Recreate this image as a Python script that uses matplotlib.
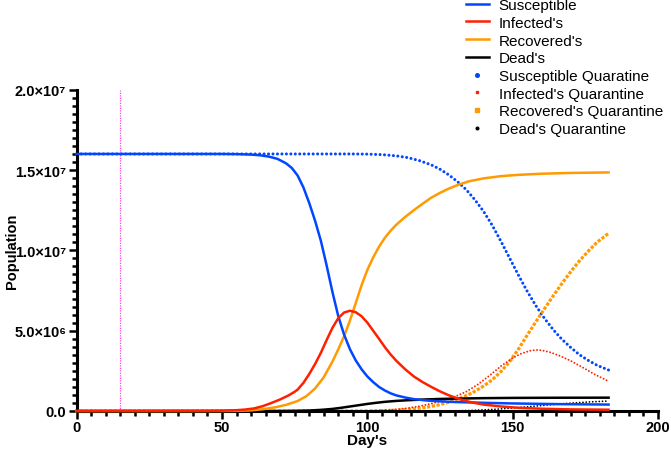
import matplotlib
matplotlib.use("Agg")
import matplotlib.pyplot as plt
from matplotlib.lines import Line2D
from matplotlib.ticker import MultipleLocator

# ---- data (values in millions) ----
t_s = [0, 50, 55, 60, 63, 66, 69, 72, 74, 76, 78, 80, 82, 84, 86, 88, 90, 92, 94,
       96, 98, 100, 102, 104, 106, 108, 110, 113, 116, 120, 125, 130, 140, 150,
       165, 183]
s = [16.0, 16.0, 15.99, 15.96, 15.92, 15.84, 15.7, 15.42, 15.13, 14.66, 13.92,
     12.95, 11.85, 10.6, 9.05, 7.4, 5.9, 4.75, 3.85, 3.15, 2.6, 2.15, 1.8, 1.5,
     1.28, 1.1, 0.97, 0.84, 0.74, 0.66, 0.6, 0.56, 0.51, 0.47, 0.43, 0.40]

t_i = [0, 45, 50, 55, 58, 61, 64, 67, 70, 73, 75, 76, 78, 80, 82, 84, 86, 88, 90,
       92, 94, 96, 98, 100, 102, 104, 106, 108, 110, 113, 116, 119, 122, 125,
       128, 132, 136, 140, 146, 152, 160, 170, 183]
i = [0, 0.01, 0.02, 0.05, 0.09, 0.16, 0.3, 0.5, 0.72, 0.98, 1.2, 1.33, 1.75,
     2.3, 2.92, 3.62, 4.42, 5.18, 5.78, 6.13, 6.24, 6.15, 5.9, 5.5, 5.0, 4.5,
     3.98, 3.52, 3.12, 2.6, 2.15, 1.8, 1.5, 1.22, 0.98, 0.72, 0.53, 0.4, 0.28,
     0.2, 0.14, 0.1, 0.08]

t_r = [0, 50, 55, 60, 64, 68, 72, 76, 79, 82, 85, 88, 90, 92, 94, 96, 98, 100,
       102, 104, 106, 108, 110, 113, 116, 119, 122, 125, 128, 131, 135, 140, 146,
       152, 160, 170, 183]
r = [0, 0, 0.01, 0.04, 0.11, 0.22, 0.38, 0.62, 0.92, 1.4, 2.1, 3.08, 3.84, 4.66,
     5.62, 6.72, 7.82, 8.78, 9.56, 10.22, 10.77, 11.22, 11.6, 12.08, 12.5, 12.9,
     13.28, 13.58, 13.84, 14.06, 14.3, 14.48, 14.62, 14.7, 14.77, 14.82, 14.85]

t_d = [0, 70, 75, 80, 84, 88, 91, 94, 97, 100, 103, 106, 110, 115, 120, 125,
       130, 140, 150, 165, 183]
d = [0, 0, 0.01, 0.03, 0.07, 0.13, 0.2, 0.28, 0.36, 0.44, 0.51, 0.57, 0.63,
     0.68, 0.72, 0.75, 0.77, 0.8, 0.815, 0.825, 0.83]

t_sq = [0, 95, 100, 105, 110, 114, 118, 122, 125, 128, 131, 134, 137, 140, 143,
        146, 149, 152, 155, 158, 161, 164, 167, 170, 173, 176, 179, 183]
sq = [16.0, 16.0, 15.99, 15.96, 15.88, 15.77, 15.58, 15.32, 15.05, 14.7, 14.28,
      13.78, 13.15, 12.42, 11.55, 10.55, 9.5, 8.45, 7.45, 6.55, 5.75, 5.05,
      4.45, 3.95, 3.5, 3.15, 2.85, 2.55]

t_iq = [0, 100, 105, 110, 114, 118, 122, 126, 130, 134, 138, 142, 146, 150,
        153, 156, 158, 160, 163, 166, 170, 174, 178, 183]
iq = [0, 0, 0.04, 0.1, 0.18, 0.3, 0.46, 0.65, 0.88, 1.2, 1.65, 2.2, 2.8, 3.3,
      3.58, 3.75, 3.8, 3.78, 3.65, 3.45, 3.12, 2.72, 2.3, 1.85]

t_rq = [0, 100, 105, 110, 115, 120, 124, 128, 132, 136, 140, 143, 146, 149,
        152, 155, 158, 161, 164, 167, 170, 173, 176, 179, 183]
rq = [0, 0, 0.02, 0.05, 0.11, 0.22, 0.36, 0.54, 0.8, 1.12, 1.55, 1.95, 2.46,
      3.08, 3.86, 4.72, 5.56, 6.38, 7.18, 7.95, 8.68, 9.35, 9.95, 10.5, 11.06]

t_dq = [0, 125, 130, 135, 140, 145, 150, 155, 160, 165, 170, 176, 183]
dq = [0, 0, 0.01, 0.03, 0.07, 0.12, 0.19, 0.26, 0.34, 0.42, 0.49, 0.56, 0.62]

quarantine_day = 15
labels = ["Susceptible", "Infected's", "Recovered's", "Dead's",
          "Susceptible Quaratine", "Infected's Quarantine",
          "Recovered's Quarantine", "Dead's Quarantine"]
ytick_vals = [0, 5e6, 1e7, 1.5e7, 2e7]
ytick_labels = ["0.0", "5.0×10⁶", "1.0×10⁷", "1.5×10⁷", "2.0×10⁷"]
xtick_vals = [0, 50, 100, 150, 200]

BLUE = "#0047FF"
RED = "#FF2000"
ORANGE = "#FF9A00"
BLACK = "#000000"
MAGENTA = "#FF44DD"

M = 1e6
FONT = ["Liberation Sans", "DejaVu Sans"]
plt.rcParams["font.family"] = FONT

fig = plt.figure(figsize=(6.71, 4.52), dpi=100)
ax = fig.add_axes([76.7 / 671, 40 / 452, (658 - 76.7) / 671, (412 - 90.7) / 452])

# quarantine (dotted) series
ax.plot(t_sq, [v * M for v in sq], color=BLUE, lw=2.2, ls=(0, (0.01, 1.45)),
        dash_capstyle="round", clip_on=False, zorder=2)
ax.plot(t_rq, [v * M for v in rq], color=ORANGE, lw=2.3, ls=(0, (0.01, 1.5)),
        dash_capstyle="projecting", clip_on=False, zorder=2)
ax.plot(t_iq, [v * M for v in iq], color=RED, lw=1.4, ls=(0, (0.01, 1.7)),
        dash_capstyle="round", clip_on=False, zorder=2)
ax.plot(t_dq, [v * M for v in dq], color=BLACK, lw=1.3, ls=(0, (0.01, 1.8)),
        dash_capstyle="round", clip_on=False, zorder=2)

# model (solid) series
ax.plot(t_d, [v * M for v in d], color=BLACK, lw=1.8, clip_on=False, zorder=3)
ax.plot(t_r, [v * M for v in r], color=ORANGE, lw=1.8, clip_on=False, zorder=3)
ax.plot(t_s, [v * M for v in s], color=BLUE, lw=1.8, clip_on=False, zorder=3)
ax.plot(t_i, [v * M for v in i], color=RED, lw=1.8, clip_on=False, zorder=4)

ax.axvline(quarantine_day, color=MAGENTA, lw=0.9, ls=(0, (1, 1)), zorder=1)

ax.set_xlim(0, 200)
ax.set_ylim(0, 2e7)
for side in ("top", "right"):
    ax.spines[side].set_visible(False)
for side in ("left", "bottom"):
    ax.spines[side].set_linewidth(2.2)

ax.set_xticks(xtick_vals)
ax.set_xticklabels([str(x) for x in xtick_vals])
ax.set_yticks(ytick_vals)
ax.set_yticklabels(ytick_labels)
ax.xaxis.set_minor_locator(MultipleLocator(5))
ax.yaxis.set_minor_locator(MultipleLocator(5e5))
ax.tick_params(which="major", length=5.5, width=1.8, direction="out")
ax.tick_params(axis="x", which="major", pad=1)
ax.tick_params(axis="y", which="major", pad=2)
ax.tick_params(which="minor", length=3.6, width=1.8, direction="out")
for lab in ax.get_xticklabels() + ax.get_yticklabels():
    lab.set_fontweight("bold")
    lab.set_fontsize(10.5)

ax.set_xlabel("Day's", fontsize=11, fontweight="bold", va="center")
ax.xaxis.set_label_coords(0.5, -0.09)
ax.set_ylabel("Population", fontsize=10.5, fontweight="bold", va="center",
              family=["Liberation Sans Narrow", "Liberation Sans", "DejaVu Sans"])
ax.yaxis.set_label_coords(-0.111, 0.5)

handles = [
    Line2D([], [], color=BLUE, lw=1.8),
    Line2D([], [], color=RED, lw=1.8),
    Line2D([], [], color=ORANGE, lw=1.8),
    Line2D([], [], color=BLACK, lw=1.8),
    Line2D([], [], color=BLUE, ls="none", marker="o", ms=2.6),
    Line2D([], [], color=RED, ls="none", marker="s", ms=1.8),
    Line2D([], [], color=ORANGE, ls="none", marker="s", ms=2.6),
    Line2D([], [], color=BLACK, ls="none", marker="o", ms=1.9),
]
fig.legend(handles, labels, loc="upper left", bbox_to_anchor=(466 / 671, 1.002),
           frameon=False, fontsize=11, handlelength=1.5, handletextpad=0.65,
           labelspacing=0.243, borderpad=0, borderaxespad=0)

fig.savefig("out.png", dpi=100)
